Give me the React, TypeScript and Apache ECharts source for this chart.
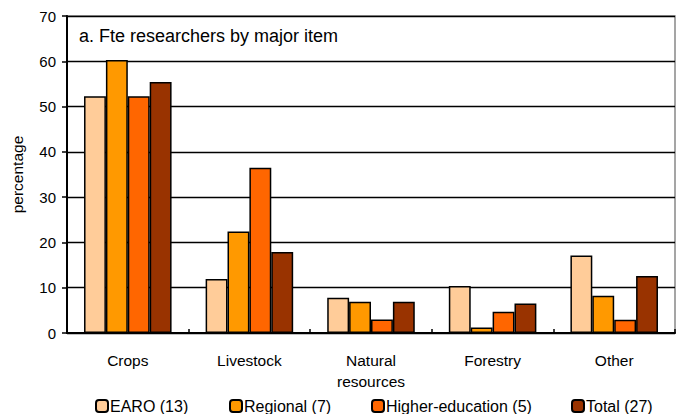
import React, { useEffect, useRef } from "react";
import * as echarts from "echarts";

const categories = ["Crops", "Livestock", "Natural\nresources", "Forestry", "Other"];
const seriesNames = ["EARO (13)", "Regional (7)", "Higher-education (5)", "Total (27)"];
const earo = [52.3, 11.9, 7.8, 10.4, 17.1];
const regional = [60.3, 22.4, 6.9, 1.2, 8.2];
const higherEd = [52.3, 36.5, 3.0, 4.7, 2.9];
const total = [55.4, 17.9, 6.9, 6.5, 12.6];
const colors = ["#FFCC99", "#FF9900", "#FF6600", "#993300"];
const legendLeft = [95, 229, 371, 571];

export default function App() {
  const ref = useRef<HTMLDivElement>(null);
  useEffect(() => {
    if (!ref.current) return;
    const chart = echarts.init(ref.current, null, { renderer: "svg" });
    const font = "'Liberation Sans', Arial, sans-serif";
    const data = [earo, regional, higherEd, total];
    chart.setOption({
      animation: false,
      textStyle: { fontFamily: font },
      grid: {
        left: 67,
        top: 16,
        right: 7,
        bottom: 81,
        show: true,
        borderColor: "#888888",
        borderWidth: 1.5,
      },
      graphic: [
        {
          type: "text",
          left: 79,
          top: 27,
          style: { text: "a. Fte researchers by major item", fontSize: 18, fill: "#000", fontFamily: font },
        },
      ],
      legend: seriesNames.map((n, i) => ({
        data: [n],
        left: legendLeft[i],
        top: 398,
        itemWidth: 12,
        itemHeight: 12,
        itemGap: 4,
        textStyle: { fontSize: 16, color: "#000", fontFamily: font, padding: [0, 0, 0, -3] },
        padding: 0,
        selectedMode: false,
      })),
      xAxis: {
        type: "category",
        data: categories,
        axisLine: { lineStyle: { color: "#000", width: 2 } },
        axisTick: { show: true, inside: true, length: 4, lineStyle: { color: "#000", width: 1.5 } },
        axisLabel: { fontSize: 15.5, color: "#000", margin: 17, lineHeight: 21, fontFamily: font },
      },
      yAxis: {
        type: "value",
        min: 0,
        max: 70,
        interval: 10,
        name: "percentage",
        nameLocation: "middle",
        nameRotate: 90,
        nameGap: 42,
        nameTextStyle: { fontSize: 15.5, color: "#000", fontFamily: font },
        axisLine: { show: true, lineStyle: { color: "#000", width: 2 } },
        axisTick: { show: true, length: 5, lineStyle: { color: "#000", width: 1.5 } },
        axisLabel: { fontSize: 15, color: "#000", margin: 11, fontFamily: font },
        splitLine: { show: true, lineStyle: { color: "#000", width: 1.3 } },
      },
      series: seriesNames.map((n, i) => ({
        name: n,
        type: "bar",
        data: data[i],
        barGap: "0%",
        barCategoryGap: "28%",
        itemStyle: { color: colors[i], borderColor: "#000", borderWidth: 1.5 },
      })),
    });
    return () => chart.dispose();
  }, []);
  return <div ref={ref} style={{ width: 682, height: 414, position: "absolute", left: 0, top: 0 }} />;
}
